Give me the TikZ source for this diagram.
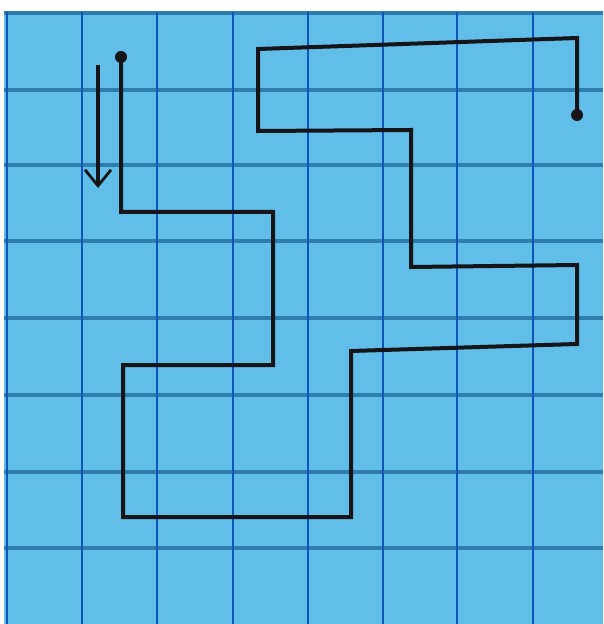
\documentclass[tikz,border=0pt]{standalone}
\usetikzlibrary{arrows.meta}
\definecolor{paper}{RGB}{96,190,232}
\definecolor{rule}{RGB}{45,125,175}
\definecolor{column}{RGB}{15,85,185}
\definecolor{ink}{RGB}{20,20,25}
\begin{document}
\begin{tikzpicture}[x=0.5pt,y=-0.5pt,
  hline/.style={rule,line width=2pt},
  vline/.style={column,line width=1pt},
  trail/.style={ink,line width=2pt,line join=miter},
  pin/.style={circle,fill=ink,inner sep=0pt,minimum size=6pt}]
\useasboundingbox (0,0) rectangle (603,624);
\fill[white] (0,0) rectangle (603,624);
\fill[paper] (4,12) rectangle (603,624);
% grid of the paper
\foreach \y in {90,165,241,318,395,472,548}
  \draw[hline] (4,\y) -- (603,\y);
\draw[hline] (4,13) -- (603,13);
\foreach \x in {7,82,157,233,308,383,457,533}
  \draw[vline] (\x,12) -- (\x,624);

\node[pin] (start) at (121,57) {};
\node[pin] (finish) at (577,115) {};
\draw[trail] (start.center) -- (121,212) -- (273,212) -- (273,365) -- (123,365)
  -- (123,517) -- (351,517) -- (351,351) -- (577,344) -- (577,265)
  -- (411,267) -- (411,130) -- (258,131) -- (258,49) -- (577,38) -- (finish.center);

% direction arrow
\coordinate (top) at (98,65);
\coordinate (tip) at (98,188);
\draw[ink,line width=1.6pt,-{Straight Barb[length=8pt,width=13pt,line width=1.4pt]}] (top) -- (tip);
\end{tikzpicture}
\end{document}
